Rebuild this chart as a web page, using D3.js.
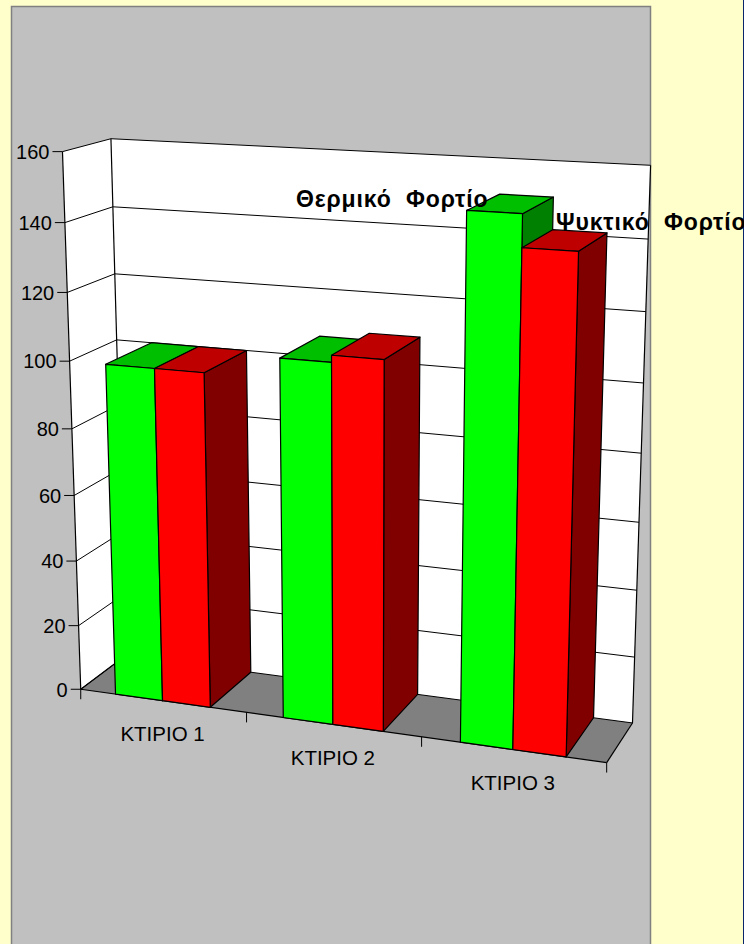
<!DOCTYPE html>
<html>
<head>
<meta charset="utf-8">
<script src="https://cdn.jsdelivr.net/npm/d3@7/dist/d3.min.js"></script>
<style>
  html, body { margin: 0; padding: 0; background: #FFFFCC; overflow: hidden; }
  svg { display: block; }
  text { font-family: "Liberation Sans", Arial, sans-serif; }
</style>
</head>
<body>
<svg id="chart" width="744" height="944"></svg>
<script>
// Loads per building
const categories = ["ΚΤΙΡΙΟ 1", "ΚΤΙΡΙΟ 2", "ΚΤΙΡΙΟ 3"];
const seriesNames = ["Θερμικό  Φορτίο", "Ψυκτικό  Φορτίο"];
const heatLoad = [100, 106, 150];
const coolLoad = [100, 108, 141];
const valueTicks = [0, 20, 40, 60, 80, 100, 120, 140, 160];

const svg = d3.select("#chart");

// Panel behind the plot
svg.append("rect").attr("x", 11.5).attr("y", 6.5).attr("width", 639).attr("height", 960)
  .attr("fill", "#C0C0C0").attr("stroke", "#808080").attr("stroke-width", 1.5);
svg.append("rect").attr("x", 743).attr("y", 0).attr("width", 1).attr("height", 944).attr("fill", "#0A246A");

// Perspective camera for the 3-D box: u = across categories (0..1),
// v = value (0..1), w = depth (0 front .. 1 back). Fitted to the box corners.
const boxCorners = [
  [0, 0, 0, 80, 689.5], [0, 1, 0, 63.3, 151.7], [0, 1, 1, 110.7, 138.3], [0, 0, 1, 126, 655],
  [1, 1, 1, 650.5, 165], [1, 0, 1, 632.5, 723.3], [1, 0, 0, 606.7, 762.3],
  [0, 0.125, 0, 79, 625.7], [0, 0.625, 0, 69, 360.7], [0, 0.75, 0, 67, 292.7], [0, 0.875, 0, 65, 222.7],
  [1/3, 0, 0, 246.7, 712.5], [2/3, 0, 0, 421.7, 736.7],
  [0, 0.875, 1, 112.8, 206.7], [1, 0.875, 1, 648.1, 239.3], [0, 0.625, 1, 116.7, 340.7]
];

function fitCamera(pts) {
  const S = 1000, n = 11;
  const M = Array.from({ length: n }, () => new Array(n + 1).fill(0));
  const addRow = (r, b) => {
    for (let i = 0; i < n; i++) {
      for (let j = 0; j < n; j++) M[i][j] += r[i] * r[j];
      M[i][n] += r[i] * b;
    }
  };
  pts.forEach(([u, v, w, X, Y]) => {
    const x = X / S, y = Y / S;
    addRow([u, v, w, 1, 0, 0, 0, 0, -x * u, -x * v, -x * w], x);
    addRow([0, 0, 0, 0, u, v, w, 1, -y * u, -y * v, -y * w], y);
  });
  for (let c = 0; c < n; c++) {
    let p = c;
    for (let r = c + 1; r < n; r++) if (Math.abs(M[r][c]) > Math.abs(M[p][c])) p = r;
    [M[c], M[p]] = [M[p], M[c]];
    for (let r = 0; r < n; r++) {
      if (r === c) continue;
      const f = M[r][c] / M[c][c];
      for (let j = c; j <= n; j++) M[r][j] -= f * M[c][j];
    }
  }
  const P = M.map((row, i) => row[n] / row[i]);
  return (u, v, w) => {
    const d = P[8] * u + P[9] * v + P[10] * w + 1;
    return [S * (P[0] * u + P[1] * v + P[2] * w + P[3]) / d,
            S * (P[4] * u + P[5] * v + P[6] * w + P[7]) / d];
  };
}
const project = fitCamera(boxCorners);

const yScale = d3.scaleLinear().domain([0, 160]).range([0, 1]);
const xBand = d3.scaleBand().domain(categories).range([0, 1]).paddingInner(0.4286).paddingOuter(0.2143);
const xSeries = d3.scaleBand().domain(seriesNames).range([0, xBand.bandwidth()]);

const poly = pts => "M" + pts.map(p => project(...p).join(",")).join("L") + "Z";
const line = (a, b) => "M" + project(...a).join(",") + "L" + project(...b).join(",");

const g = svg.append("g");

// Walls and floor
g.append("path").attr("d", poly([[0, 0, 0], [0, 1, 0], [0, 1, 1], [0, 0, 1]])).attr("fill", "#FFFFFF");
g.append("path").attr("d", poly([[0, 0, 1], [1, 0, 1], [1, 1, 1], [0, 1, 1]])).attr("fill", "#FFFFFF");
g.append("path").attr("d", poly([[0, 0, 0], [1, 0, 0], [1, 0, 1], [0, 0, 1]])).attr("fill", "#808080");

// Gridlines on the side and back walls
valueTicks.forEach(t => {
  const v = yScale(t);
  g.append("path").attr("d", line([0, v, 0], [0, v, 1]) + line([0, v, 1], [1, v, 1]))
    .attr("fill", "none").attr("stroke", "#000").attr("stroke-width", 1);
});
// Box edges
[[[0, 0, 1], [0, 1, 1]], [[1, 0, 1], [1, 1, 1]], [[0, 0, 0], [1, 0, 0]], [[1, 0, 0], [1, 0, 1]], [[0, 0, 0], [0, 0, 1]]]
  .forEach(([a, b]) => g.append("path").attr("d", line(a, b)).attr("fill", "none")
    .attr("stroke", "#000").attr("stroke-width", 1.2));

// Bars
const palettes = [
  { front: "#00FF00", top: "#00BF00", side: "#008000" },
  { front: "#FF0000", top: "#BF0000", side: "#800000" }
];
const seriesValues = [heatLoad, coolLoad];
const bars = g.append("g");
categories.forEach((cat, i) => {
  seriesNames.forEach((s, k) => {
    const u0 = xBand(cat) + xSeries(s), u1 = u0 + xSeries.bandwidth();
    const v = yScale(seriesValues[k][i]);
    const col = palettes[k];
    const faces = [
      { pts: [[u1, 0, 0], [u1, 0, 1], [u1, v, 1], [u1, v, 0]], fill: col.side },
      { pts: [[u0, v, 0], [u1, v, 0], [u1, v, 1], [u0, v, 1]], fill: col.top },
      { pts: [[u0, 0, 0], [u1, 0, 0], [u1, v, 0], [u0, v, 0]], fill: col.front }
    ];
    faces.forEach(f => bars.append("path").attr("d", poly(f.pts)).attr("fill", f.fill)
      .attr("stroke", "#000").attr("stroke-width", 1.2).attr("stroke-linejoin", "round"));
  });
});

// Value axis
const axis = svg.append("g");
axis.append("path").attr("d", line([0, 0, 0], [0, 1, 0])).attr("stroke", "#000").attr("stroke-width", 1.2);
valueTicks.forEach(t => {
  const [x, y] = project(0, yScale(t), 0);
  axis.append("path").attr("d", `M${x - 10},${y}L${x},${y}`).attr("stroke", "#000");
  axis.append("text").attr("x", x - 13).attr("y", y + 7.3).attr("text-anchor", "end")
    .attr("font-size", 20).attr("fill", "#000").text(t);
});

// Category axis
[0, 1, 2, 3].forEach(j => {
  const [x, y] = project(j / 3, 0, 0);
  axis.append("path").attr("d", `M${x},${y}L${x},${y + 10}`).attr("stroke", "#000");
});
categories.forEach(cat => {
  const [x, y] = project(xBand(cat) + xBand.bandwidth() / 2, 0, 0);
  axis.append("text").attr("x", x).attr("y", y + 40.5).attr("text-anchor", "middle")
    .attr("font-size", 20.5).attr("fill", "#000").text(cat);
});

// Series names
const nameSpots = [[296, 207], [556, 230]];
seriesNames.forEach((s, k) => {
  svg.append("text").attr("x", nameSpots[k][0]).attr("y", nameSpots[k][1])
    .attr("font-size", 23).attr("font-weight", "bold").attr("letter-spacing", 0.85)
    .style("white-space", "pre").attr("fill", "#000").text(s);
});
</script>
</body>
</html>
